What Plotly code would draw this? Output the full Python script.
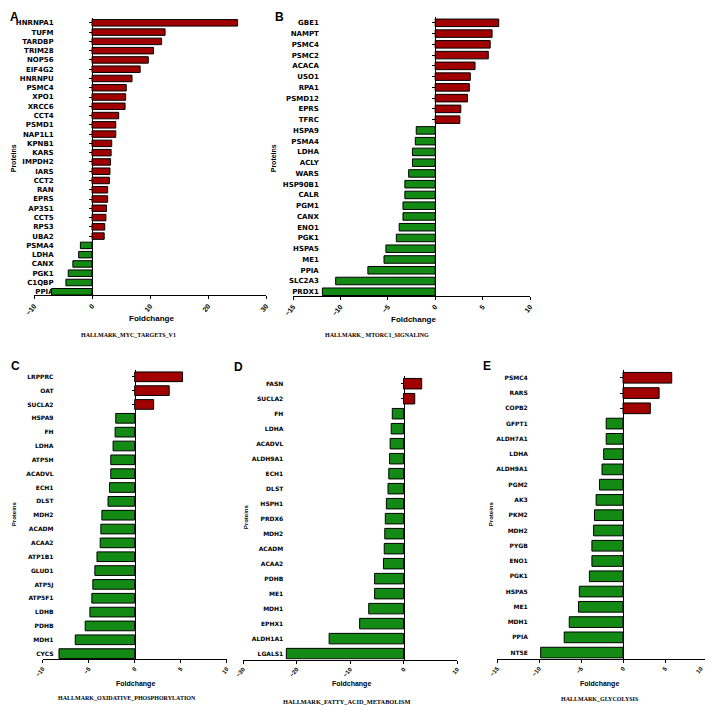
import plotly.graph_objects as go

W, H = 713, 715
OFF = 8  # the page body adds an 8px margin around the figure

# ---------------- data ----------------
a_proteins = ["HNRNPA1", "TUFM", "TARDBP", "TRIM28", "NOP56", "EIF4G2", "HNRNPU", "PSMC4",
              "XPO1", "XRCC6", "CCT4", "PSMD1", "NAP1L1", "KPNB1", "KARS", "IMPDH2", "IARS",
              "CCT2", "RAN", "EPRS", "AP3S1", "CCT5", "RPS3", "UBA2", "PSMA4", "LDHA", "CANX",
              "PGK1", "C1QBP", "PPIA"]
a_fold = [25.1, 12.6, 12.0, 10.6, 9.7, 8.3, 6.9, 5.9, 5.8, 5.7, 4.6, 4.1, 4.1, 3.4, 3.3, 3.2,
          3.1, 3.0, 2.7, 2.7, 2.5, 2.4, 2.2, 2.1, -2.0, -2.3, -3.3, -4.1, -4.5, -7.0]

b_proteins = ["GBE1", "NAMPT", "PSMC4", "PSMC2", "ACACA", "USO1", "RPA1", "PSMD12", "EPRS",
              "TFRC", "HSPA9", "PSMA4", "LDHA", "ACLY", "WARS", "HSP90B1", "CALR", "PGM1",
              "CANX", "ENO1", "PGK1", "HSPA5", "ME1", "PPIA", "SLC2A3", "PRDX1"]
b_fold = [6.7, 6.0, 5.8, 5.6, 4.2, 3.7, 3.6, 3.4, 2.7, 2.6, -2.0, -2.1, -2.4, -2.4, -2.8,
          -3.2, -3.2, -3.4, -3.4, -3.8, -4.1, -5.2, -5.4, -7.1, -10.5, -11.9]

c_proteins = ["LRPPRC", "OAT", "SUCLA2", "HSPA9", "FH", "LDHA", "ATP5H", "ACADVL", "ECH1",
              "DLST", "MDH2", "ACADM", "ACAA2", "ATP1B1", "GLUD1", "ATP5J", "ATP5F1", "LDHB",
              "PDHB", "MDH1", "CYCS"]
c_fold = [5.2, 3.75, 2.06, -2.06, -2.13, -2.35, -2.6, -2.6, -2.74, -2.9, -3.57, -3.68, -3.75,
          -4.1, -4.33, -4.55, -4.66, -4.87, -5.38, -6.46, -8.23]

d_proteins = ["FASN", "SUCLA2", "FH", "LDHA", "ACADVL", "ALDH9A1", "ECH1", "DLST", "HSPH1",
              "PRDX6", "MDH2", "ACADM", "ACAA2", "PDHB", "ME1", "MDH1", "EPHX1", "ALDH1A1",
              "LGALS1"]
d_fold = [3.4, 2.1, -2.1, -2.3, -2.5, -2.6, -2.75, -2.9, -3.2, -3.4, -3.5, -3.6, -3.75, -5.4,
          -5.4, -6.5, -8.2, -13.9, -21.9]

e_proteins = ["PSMC4", "RARS", "COPB2", "GFPT1", "ALDH7A1", "LDHA", "ALDH9A1", "PGM2", "AK3",
              "PKM2", "MDH2", "PYGB", "ENO1", "PGK1", "HSPA5", "ME1", "MDH1", "PPIA", "NT5E"]
e_fold = [5.8, 4.3, 3.25, -2.0, -2.0, -2.3, -2.5, -2.8, -3.2, -3.4, -3.5, -3.7, -3.7, -4.0,
          -5.2, -5.3, -6.4, -7.0, -9.8]

titles = ["HALLMARK_MYC_TARGETS_V1", "HALLMARK_ MTORC1_SIGNALING",
          "HALLMARK_OXIDATIVE_PHOSPHORYLATION", "HALLMARK_FATTY_ACID_METABOLISM",
          "HALLMARK_GLYCOLYSIS"]
letters = ["A", "B", "C", "D", "E"]
x_ranges = [(-10, 30, 10), (-15, 10, 5), (-10, 10, 5), (-30, 10, 10), (-15, 10, 5)]
x_title = "Foldchange"
y_title = "Proteins"

# ---------------- layout (pixel positions in the 713x715 window) ----------------
layout_cfg = [
    dict(xdom=(34, 266), first=23, last=295, lab_right=53, lab_fs=7, tick_fs=7,
         letter=(14, 17), prot=(13, 160), fold=(151, 322), title=(128, 339), ax_fs=8, t_fs=6,
         edge_label=False),
    dict(xdom=(293, 530), first=23, last=295, lab_right=318, lab_fs=7, tick_fs=7,
         letter=(279, 17), prot=(273, 160), fold=(413, 323), title=(377, 339), ax_fs=8, t_fs=6,
         edge_label=False),
    dict(xdom=(42.7, 226.7), first=381, last=661, lab_right=53, lab_fs=6, tick_fs=6,
         letter=(15, 370), prot=(14, 520), fold=(135, 692), title=(127, 706), ax_fs=7, t_fs=6,
         edge_label=False),
    dict(xdom=(243, 457), first=388, last=661, lab_right=282, lab_fs=6, tick_fs=6,
         letter=(239, 371), prot=(246, 523), fold=(351, 692), title=(346, 709), ax_fs=7,
         t_fs=6.3, edge_label=False),
    dict(xdom=(497, 707), first=382, last=660, lab_right=527, lab_fs=6, tick_fs=6,
         letter=(487, 370), prot=(491, 520), fold=(599, 692), title=(600, 707), ax_fs=7, t_fs=6,
         edge_label=True),
]

RED = "#A00000"
GREEN = "#138A13"
SANS = "DejaVu Sans"
ARIAL = "Liberation Sans"
SERIF = "Liberation Serif"

datasets = [(a_proteins, a_fold), (b_proteins, b_fold), (c_proteins, c_fold),
            (d_proteins, d_fold), (e_proteins, e_fold)]

FW, FH = W - OFF, H - OFF
FIG_H = H - 2 * OFF  # keep page height inside the window (no scrollbar)

fig = go.Figure()
layout = dict(template="none", width=FW, height=FIG_H, margin=dict(l=0, r=0, t=0, b=0, pad=0),
              autosize=False, paper_bgcolor="white", plot_bgcolor="white",
              showlegend=False)
annotations = []


def px(x):
    return (x - OFF) / FW


def py(y):
    return 1 - (y - OFF) / FH


for i, ((prots, vals), cfg, (xmin, xmax, dt)) in enumerate(zip(datasets, layout_cfg, x_ranges)):
    k = "" if i == 0 else str(i + 1)
    n = len(prots)
    fig.add_trace(go.Bar(
        x=vals, y=prots, orientation="h",
        marker=dict(color=[RED if v > 0 else GREEN for v in vals],
                    line=dict(color="black", width=1)),
        width=0.7, xaxis="x" + k, yaxis="y" + k, hoverinfo="x+y"))

    s = (cfg["last"] - cfg["first"]) / (n - 1)
    top = cfg["first"] - 0.5 * s
    bottom = cfg["last"] + 0.4 * s
    x0, x1 = cfg["xdom"]
    zero_px = x0 + (0 - xmin) / (xmax - xmin) * (x1 - x0)
    standoff = int(round(max(zero_px - 3 - cfg["lab_right"] - 2, 0)))

    tickvals = list(range(xmin, xmax + 1, dt))
    ticktext = [("\u2212" + str(-v)) if v < 0 else str(v) for v in tickvals]
    tick_font = dict(family=ARIAL, size=cfg["tick_fs"], color="black", weight="bold")
    if cfg["edge_label"]:
        # the label at the right edge of the page is drawn as an annotation on the axis
        edge_text = ticktext[-1]
        ticktext[-1] = ""
        annotations.append(dict(text=edge_text, x=tickvals[-1], xref="x" + k,
                                y=py(bottom + 4), yref="paper", showarrow=False,
                                xanchor="right", yanchor="top", textangle=-50,
                                font=tick_font))

    layout["xaxis" + k] = dict(
        domain=[px(x0), px(x1)], range=[xmin, xmax], anchor="y" + k, automargin=False,
        tickvals=tickvals, ticktext=ticktext, ticks="outside", ticklen=3,
        tickcolor="black", showline=True, linecolor="black", linewidth=1,
        showgrid=False, zeroline=False, tickangle=-50, ticklabeloverflow="allow",
        tickfont=tick_font, fixedrange=True)
    layout["yaxis" + k] = dict(
        domain=[py(bottom), py(top)], type="category", categoryorder="array",
        categoryarray=prots, range=[n - 1 + 0.4, -0.5], anchor="free", automargin=False,
        position=px(zero_px), ticks="outside", ticklen=3, tickcolor="black",
        showline=True, linecolor="black", linewidth=1, showgrid=False, zeroline=False,
        ticklabelstandoff=standoff, layer="below traces",
        tickfont=dict(family=SANS, size=cfg["lab_fs"], color="black", weight="bold"),
        fixedrange=True)

    annotations.append(dict(text=letters[i], x=px(cfg["letter"][0]), y=py(cfg["letter"][1]),
                            xref="paper", yref="paper", showarrow=False,
                            xanchor="center", yanchor="middle",
                            font=dict(family=ARIAL, size=12, color="black", weight="bold")))
    annotations.append(dict(text=y_title, x=px(cfg["prot"][0]), y=py(cfg["prot"][1]),
                            xref="paper", yref="paper", showarrow=False, textangle=-90,
                            xanchor="center", yanchor="middle",
                            font=dict(family=ARIAL, size=cfg["ax_fs"] - 1, color="black",
                                      weight="bold")))
    annotations.append(dict(text=x_title, x=px(cfg["fold"][0]), y=py(cfg["fold"][1]),
                            xref="paper", yref="paper", showarrow=False,
                            xanchor="center", yanchor="middle",
                            font=dict(family=ARIAL, size=cfg["ax_fs"], color="black",
                                      weight="bold")))
    annotations.append(dict(text=titles[i], x=px(cfg["title"][0]), y=py(cfg["title"][1]),
                            xref="paper", yref="paper", showarrow=False,
                            xanchor="center", yanchor="middle",
                            font=dict(family=SERIF, size=cfg["t_fs"], color="black",
                                      weight="bold")))

layout["annotations"] = annotations
fig.update_layout(**layout)
fig.write_html("out.html")
